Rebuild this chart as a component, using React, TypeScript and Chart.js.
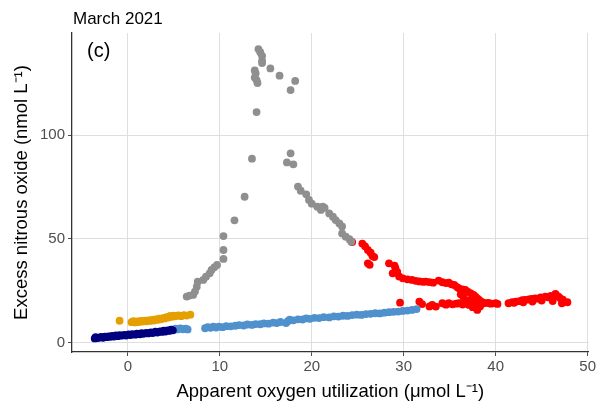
import React, { useEffect, useRef } from "react";
import { Chart, registerables } from "chart.js";

Chart.register(...registerables);

const chartTitle = "March 2021";
const panelLabel = "(c)";
const xTitle = "Apparent oxygen utilization (\u03BCmol L\u207B\u00B9)";
const yTitle = "Excess nitrous oxide (nmol L\u207B\u00B9)";
const xTickStep = 10;
const yTickStep = 50;

const navyPoints: [number, number][] = [
  [-3.6, 2.2], [-3.5, 2.8], [-3.3, 2.4], [-3.1, 2.6], [-2.9, 2.9], [-2.7, 2.5], [-2.5, 3.0], [-2.3, 2.8],
  [-2.1, 3.2], [-1.9, 3.0], [-1.7, 3.4], [-1.5, 3.1], [-1.3, 3.6], [-1.1, 3.3], [-0.9, 3.8], [-0.7, 3.5],
  [-0.4, 3.9], [-0.2, 3.6], [0.1, 4.1], [0.3, 3.8], [0.5, 4.3], [0.8, 4.0], [1.0, 4.5], [1.3, 4.2],
  [1.5, 4.7], [1.7, 4.4], [2.0, 4.9], [2.2, 4.6], [2.5, 5.1], [2.7, 4.8], [3.0, 5.4], [3.2, 5.0],
  [3.5, 5.6], [3.7, 5.3], [3.9, 5.9], [4.1, 5.5], [4.3, 6.1], [4.5, 5.8], [4.7, 6.4], [4.9, 6.1],
];

const orangePoints: [number, number][] = [
  [-0.9, 10.7], [0.4, 10.0], [0.6, 10.5], [0.8, 9.9], [1.0, 10.4], [1.2, 10.1], [1.4, 10.6], [1.6, 10.3],
  [1.8, 10.8], [2.0, 10.4], [2.2, 10.9], [2.4, 10.6], [2.6, 11.1], [2.8, 10.8], [3.0, 11.4], [3.2, 11.1],
  [3.4, 11.7], [3.6, 11.4], [3.8, 12.0], [4.0, 11.8], [4.2, 12.4], [4.4, 12.2], [4.6, 13.0], [4.8, 12.6],
  [5.0, 13.1], [5.2, 12.8], [5.5, 13.3], [5.8, 12.9], [6.1, 13.4], [6.4, 13.2], [6.8, 13.6],
];

const bluePoints: [number, number][] = [
  [4.9, 6.4], [5.2, 6.9], [5.4, 6.5], [5.7, 7.0], [6.0, 6.6], [6.3, 6.9], [6.5, 6.5],
  [8.4, 7.1], [8.7, 7.6], [9.0, 7.3], [9.3, 7.8], [9.6, 7.4], [9.9, 7.9], [10.3, 7.6], [10.7, 8.1],
  [11.2, 8.0], [11.7, 8.3], [12.1, 8.6], [12.6, 8.4], [13.0, 8.9], [13.5, 8.7], [13.9, 9.1], [14.4, 9.0],
  [14.8, 9.4], [15.3, 9.3], [15.8, 9.8], [16.2, 9.6], [16.6, 10.1], [17.2, 9.6], [17.4, 10.5], [17.6, 11.2],
  [18.0, 10.9], [18.5, 11.4], [19.0, 11.3], [19.4, 11.8], [19.8, 11.6], [20.3, 12.1], [20.8, 12.0],
  [21.3, 12.4], [21.9, 12.3], [22.4, 12.8], [22.9, 12.7], [23.4, 13.1], [23.9, 13.0], [24.4, 13.4],
  [24.9, 13.6], [25.4, 13.5], [25.9, 13.9], [26.4, 14.0], [26.9, 14.3], [27.4, 14.2], [27.9, 14.6],
  [28.4, 14.8], [28.9, 15.0], [29.4, 15.1], [29.9, 15.4], [30.4, 15.6], [30.9, 15.9], [31.4, 16.3],
];

const grayPoints: [number, number][] = [
  [6.4, 22.3], [6.7, 22.8], [7.1, 23.1], [7.3, 24.7], [7.5, 27.1], [7.6, 29.5], [8.2, 30.3], [8.5, 31.9],
  [8.9, 33.5], [9.1, 35.1], [9.4, 36.4], [9.7, 37.5], [10.4, 40.4], [10.4, 44.7], [10.4, 51.4], [11.6, 59.0],
  [12.7, 70.3], [13.5, 88.6], [14.0, 111.0], [13.8, 127.6], [14.0, 126.4], [14.1, 125.0], [13.8, 131.0],
  [13.9, 129.6], [14.2, 141.3], [14.4, 139.8], [14.6, 138.0], [14.6, 135.6], [14.6, 134.6], [15.5, 132.0],
  [16.5, 128.5], [18.2, 126.0], [17.7, 121.6], [17.7, 91.2], [17.3, 86.8], [18.0, 85.9], [18.5, 75.2],
  [18.8, 73.2], [19.4, 71.5], [19.7, 68.8], [20.0, 67.0], [20.6, 65.5], [21.0, 64.0], [21.2, 65.5],
  [21.4, 65.0], [21.9, 62.3], [22.3, 60.7], [22.6, 59.1], [23.0, 57.5], [23.3, 56.0], [23.3, 52.7],
  [23.7, 51.1], [24.1, 49.9], [24.3, 48.7],
];

const redPoints: [number, number][] = [
  [24.4, 48.5], [25.5, 47.8], [25.8, 46.5], [26.1, 44.7], [26.4, 43.4], [26.6, 41.8], [26.8, 41.3],
  [26.1, 38.3], [26.3, 37.6], [28.4, 38.3], [29.0, 37.2], [29.1, 36.0], [28.8, 33.5], [29.3, 34.2],
  [29.5, 32.0], [29.9, 31.1], [30.4, 30.6], [30.9, 30.3], [31.3, 29.9], [31.7, 29.6], [32.1, 29.4],
  [32.4, 29.5], [32.8, 29.3], [33.2, 29.0], [33.8, 30.0], [34.2, 29.2], [34.6, 28.8], [34.9, 29.0],
  [35.2, 28.2], [35.5, 27.9], [35.8, 26.9], [36.0, 26.3], [36.4, 25.8], [36.7, 25.5], [37.0, 24.6],
  [37.3, 23.9], [37.6, 23.1], [37.8, 22.3], [38.0, 21.5], [38.2, 20.7], [38.5, 19.8], [38.7, 19.1],
  [39.1, 19.3], [39.5, 18.9], [40.0, 19.1], [40.2, 18.8],
  [36.5, 22.0], [37.0, 20.5], [37.4, 21.0], [36.2, 23.4], [37.8, 18.0],
  [29.6, 19.4], [31.7, 19.9], [32.0, 18.7], [32.8, 17.6], [33.1, 18.3], [33.5, 17.5], [34.2, 19.1],
  [34.6, 18.4], [34.9, 19.1], [35.3, 18.6], [35.7, 18.9], [36.0, 19.1], [36.4, 18.5], [36.8, 18.9],
  [37.1, 18.3], [37.5, 17.2], [38.0, 15.9], [38.3, 17.6], [39.3, 19.1],
  [41.4, 19.1], [41.8, 19.6], [42.2, 19.9], [42.6, 20.1], [42.9, 20.6], [43.2, 20.7], [43.6, 20.9],
  [43.9, 21.2], [44.3, 21.5], [44.6, 21.3], [44.9, 21.9], [45.4, 22.3], [45.7, 22.0], [46.0, 22.7],
  [46.5, 23.6], [46.8, 22.4], [47.0, 21.6], [47.3, 20.8], [47.2, 19.1], [47.8, 19.6], [45.0, 20.4],
  [46.2, 20.2], [44.0, 19.9], [43.0, 19.6], [42.0, 19.3],
];

const FONT = "'Liberation Sans', Arial, Helvetica, sans-serif";

const toXY = (pts: [number, number][]) => pts.map(([x, y]) => ({ x, y }));

const textPlugin = {
  id: "panelText",
  afterDraw(chart: any) {
    const ctx = chart.ctx;
    const area = chart.chartArea;
    ctx.save();
    ctx.fillStyle = "#000000";
    ctx.textAlign = "left";
    ctx.textBaseline = "alphabetic";
    ctx.font = `17px ${FONT}`;
    ctx.fillText(chartTitle, area.left + 1, 24);
    ctx.font = `20px ${FONT}`;
    ctx.fillText(panelLabel, area.left + 15, 57);
    ctx.restore();
  },
};

export default function App() {
  const canvasRef = useRef<HTMLCanvasElement | null>(null);

  useEffect(() => {
    if (!canvasRef.current) return;
    const mk = (label: string, pts: [number, number][], color: string) => ({
      label,
      data: toXY(pts),
      backgroundColor: color,
      borderColor: color,
      borderWidth: 0,
      pointRadius: 3.9,
      pointHoverRadius: 3.9,
    });
    const chart = new Chart(canvasRef.current, {
      type: "scatter",
      data: {
        datasets: [
          mk("navy", navyPoints, "#00007F"),
          mk("orange", orangePoints, "#E69F00"),
          mk("blue", bluePoints, "#4F91CD"),
          mk("gray", grayPoints, "#8F8F8F"),
          mk("red", redPoints, "#FF0000"),
        ],
      },
      options: {
        animation: false,
        responsive: true,
        maintainAspectRatio: false,
        layout: { padding: { top: 33, right: 8, left: 0, bottom: 0 } },
        plugins: { legend: { display: false }, tooltip: { enabled: false } },
        scales: {
          x: {
            type: "linear",
            min: -6.07,
            max: 50.11,
            afterFit: (s: any) => {
              s.height = 57;
            },
            ticks: {
              stepSize: xTickStep,
              includeBounds: false,
              padding: 2,
              color: "#4D4D4D",
              font: { family: FONT, size: 15 },
            },
            grid: {
              color: "#DEDEDE",
              lineWidth: 1,
              tickColor: "#4D4D4D",
              tickLength: 4,
              drawTicks: true,
            },
            border: { display: true, color: "#333333", width: 1.3 },
            title: {
              display: true,
              text: xTitle,
              color: "#000000",
              font: { family: FONT, size: 18.5 },
              padding: { top: 0, bottom: 6 },
            },
          },
          y: {
            type: "linear",
            min: -4.33,
            max: 149.04,
            afterFit: (s: any) => {
              s.width = 72;
            },
            ticks: {
              stepSize: yTickStep,
              includeBounds: false,
              padding: 3,
              color: "#4D4D4D",
              font: { family: FONT, size: 15 },
            },
            grid: {
              color: "#DEDEDE",
              lineWidth: 1,
              tickColor: "#4D4D4D",
              tickLength: 4,
              drawTicks: true,
            },
            border: { display: true, color: "#333333", width: 1.3 },
            title: {
              display: true,
              text: yTitle,
              color: "#000000",
              font: { family: FONT, size: 18.5 },
              padding: { top: 10.5, bottom: 0 },
            },
          },
        },
      },
      plugins: [textPlugin],
    } as any);
    return () => chart.destroy();
  }, []);

  return (
    <div style={{ position: "absolute", left: 0, top: 0, width: 598, height: 409, background: "#FFFFFF" }}>
      <canvas ref={canvasRef} />
    </div>
  );
}
